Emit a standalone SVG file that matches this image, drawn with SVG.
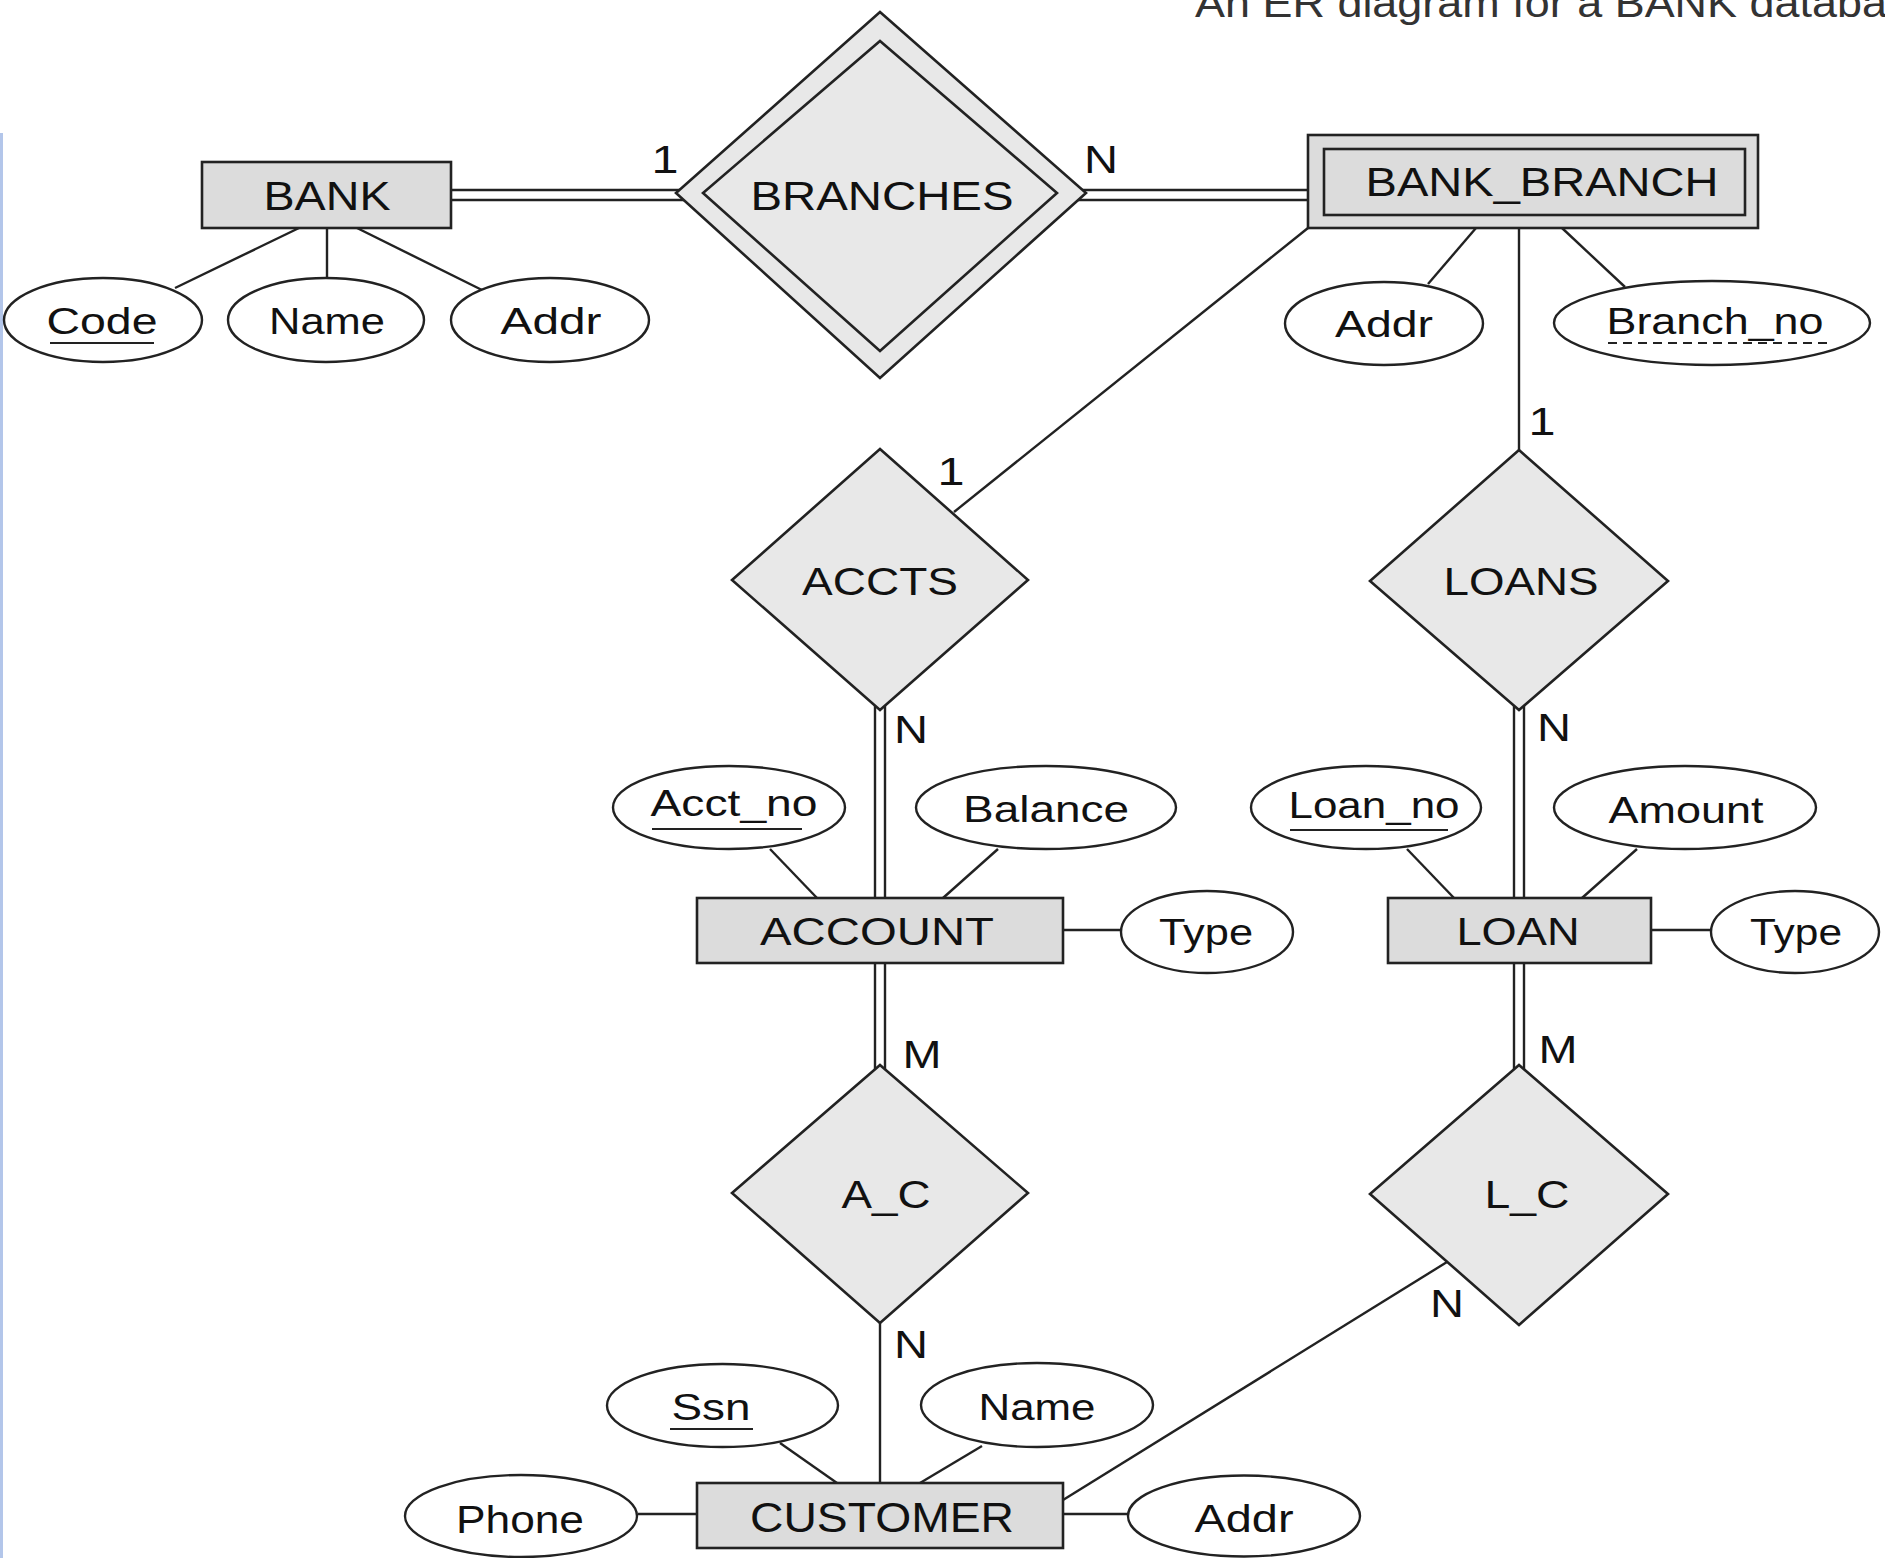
<svg xmlns="http://www.w3.org/2000/svg" width="1885" height="1558" viewBox="0 0 1885 1558">
<style>
  .bg { fill: #ffffff; }
  .ent { fill: #dcdcdc; stroke: #222; stroke-width: 2.6; }
  .rel { fill: #e8e8e8; stroke: #222; stroke-width: 2.6; }
  .attr { fill: #ffffff; stroke: #222; stroke-width: 2.4; }
  .conn line { stroke: #222; stroke-width: 2.4; fill: none; }
  text { font-family: "Liberation Sans", Arial, sans-serif; fill: #111; text-anchor: middle; }
  .big { font-size: 38px; }
  .at { font-size: 37px; }
  .card { font-size: 38px; }
  .ul { stroke: #222; stroke-width: 2.2; }
  .dul { stroke: #222; stroke-width: 2.2; stroke-dasharray: 9 6; }
</style>
<rect class="bg" x="0" y="0" width="1885" height="1558"/>
<rect x="0" y="133" width="3" height="1425" fill="#b3c6ea"/>
<text x="1195" y="17" style="font-size:41px;text-anchor:start;fill:#333" textLength="692" lengthAdjust="spacingAndGlyphs">An ER diagram for a BANK databa</text>

<g id="connectors" class="conn">
  <line x1="451" y1="190" x2="700" y2="190"/>
  <line x1="451" y1="200" x2="700" y2="200"/>
  <line x1="1070" y1="190" x2="1308" y2="190"/>
  <line x1="1070" y1="200" x2="1308" y2="200"/>
  <line x1="299" y1="228" x2="175" y2="288"/>
  <line x1="327" y1="228" x2="327" y2="278"/>
  <line x1="357" y1="228" x2="482" y2="290"/>
  <line x1="1476" y1="228" x2="1428" y2="284"/>
  <line x1="1562" y1="228" x2="1625" y2="287"/>
  <line x1="1308" y1="228" x2="954" y2="512"/>
  <line x1="1519" y1="228" x2="1519" y2="460"/>
  <line x1="875" y1="690" x2="875" y2="898"/>
  <line x1="885" y1="690" x2="885" y2="898"/>
  <line x1="1514" y1="690" x2="1514" y2="898"/>
  <line x1="1524" y1="690" x2="1524" y2="898"/>
  <line x1="770" y1="849" x2="817" y2="898"/>
  <line x1="998" y1="849" x2="943" y2="898"/>
  <line x1="1063" y1="930" x2="1121" y2="930"/>
  <line x1="1407" y1="849" x2="1454" y2="898"/>
  <line x1="1637" y1="849" x2="1582" y2="898"/>
  <line x1="1651" y1="930" x2="1712" y2="930"/>
  <line x1="875" y1="963" x2="875" y2="1085"/>
  <line x1="885" y1="963" x2="885" y2="1085"/>
  <line x1="1514" y1="963" x2="1514" y2="1085"/>
  <line x1="1524" y1="963" x2="1524" y2="1085"/>
  <line x1="880" y1="1310" x2="880" y2="1483"/>
  <line x1="1447" y1="1262" x2="1063" y2="1500"/>
  <line x1="780" y1="1443" x2="837" y2="1483"/>
  <line x1="982" y1="1446" x2="920" y2="1483"/>
  <line x1="638" y1="1514" x2="697" y2="1514"/>
  <line x1="1063" y1="1514" x2="1128" y2="1514"/>
</g>

<g id="BANK">
  <rect class="ent" x="202" y="162" width="249" height="66"/>
  <text x="327" y="210" style="font-size:40px" textLength="127" lengthAdjust="spacingAndGlyphs">BANK</text>
</g>
<g id="BANK_Code">
  <ellipse class="attr" cx="103" cy="320" rx="99" ry="42"/>
  <text class="at" x="102" y="334" textLength="111" lengthAdjust="spacingAndGlyphs">Code</text>
  <line class="ul" x1="50" y1="343" x2="154" y2="343"/>
</g>
<g id="BANK_Name">
  <ellipse class="attr" cx="326" cy="320" rx="98" ry="42"/>
  <text class="at" x="327" y="334" textLength="116" lengthAdjust="spacingAndGlyphs">Name</text>
</g>
<g id="BANK_Addr">
  <ellipse class="attr" cx="550" cy="320" rx="99" ry="42"/>
  <text class="at" x="551" y="334" textLength="101" lengthAdjust="spacingAndGlyphs">Addr</text>
</g>

<g id="BRANCHES">
  <polygon class="rel" points="880,12 1086,193 880,378 676,193"/>
  <polygon class="rel" points="880,41 1057,193 880,351 703,193"/>
  <text x="882" y="210" style="font-size:40px" textLength="263" lengthAdjust="spacingAndGlyphs">BRANCHES</text>
</g>

<g id="BANK_BRANCH">
  <rect class="ent" x="1308" y="135" width="450" height="93"/>
  <rect class="ent" x="1324" y="149" width="421" height="66"/>
  <text x="1542" y="196" style="font-size:41px" textLength="353" lengthAdjust="spacingAndGlyphs">BANK_BRANCH</text>
</g>
<g id="BB_Addr">
  <ellipse class="attr" cx="1384" cy="323.5" rx="99" ry="41.5"/>
  <text class="at" x="1384" y="337" textLength="98" lengthAdjust="spacingAndGlyphs">Addr</text>
</g>
<g id="BB_Branch_no">
  <ellipse class="attr" cx="1712" cy="323" rx="158" ry="42"/>
  <text class="at" x="1715" y="334" textLength="217" lengthAdjust="spacingAndGlyphs">Branch_no</text>
  <line class="dul" x1="1608" y1="343" x2="1828" y2="343"/>
</g>

<g id="ACCTS">
  <polygon class="rel" points="880,449 1028,580 880,710 732,580"/>
  <text class="big" x="880" y="595" textLength="156" lengthAdjust="spacingAndGlyphs">ACCTS</text>
</g>
<g id="LOANS">
  <polygon class="rel" points="1519,450 1668,581 1519,710 1370,581"/>
  <text class="big" x="1521" y="595" textLength="155" lengthAdjust="spacingAndGlyphs">LOANS</text>
</g>

<g id="ACCOUNT">
  <rect class="ent" x="697" y="898" width="366" height="65"/>
  <text class="big" x="877" y="945" textLength="234" lengthAdjust="spacingAndGlyphs">ACCOUNT</text>
</g>
<g id="ACC_Acct_no">
  <ellipse class="attr" cx="729" cy="807.5" rx="116" ry="41.5"/>
  <text class="at" x="734" y="816" textLength="167" lengthAdjust="spacingAndGlyphs">Acct_no</text>
  <line class="ul" x1="652" y1="829" x2="802" y2="829"/>
</g>
<g id="ACC_Balance">
  <ellipse class="attr" cx="1046" cy="807.5" rx="130" ry="41.5"/>
  <text class="at" x="1046" y="822" textLength="166" lengthAdjust="spacingAndGlyphs">Balance</text>
</g>
<g id="ACC_Type">
  <ellipse class="attr" cx="1207" cy="932" rx="86" ry="41"/>
  <text class="at" x="1206" y="945" textLength="94" lengthAdjust="spacingAndGlyphs">Type</text>
</g>

<g id="LOAN">
  <rect class="ent" x="1388" y="898" width="263" height="65"/>
  <text class="big" x="1518" y="945" textLength="123" lengthAdjust="spacingAndGlyphs">LOAN</text>
</g>
<g id="LOAN_Loan_no">
  <ellipse class="attr" cx="1366" cy="807.5" rx="115" ry="41.5"/>
  <text class="at" x="1374" y="818" textLength="171" lengthAdjust="spacingAndGlyphs">Loan_no</text>
  <line class="ul" x1="1290" y1="830" x2="1448" y2="830"/>
</g>
<g id="LOAN_Amount">
  <ellipse class="attr" cx="1685" cy="807.5" rx="131" ry="41.5"/>
  <text class="at" x="1686" y="823" textLength="155" lengthAdjust="spacingAndGlyphs">Amount</text>
</g>
<g id="LOAN_Type">
  <ellipse class="attr" cx="1795" cy="932" rx="84" ry="41"/>
  <text class="at" x="1796" y="945" textLength="92" lengthAdjust="spacingAndGlyphs">Type</text>
</g>

<g id="A_C">
  <polygon class="rel" points="880,1065 1028,1193 880,1323 732,1193"/>
  <text class="big" x="886" y="1208" textLength="89" lengthAdjust="spacingAndGlyphs">A_C</text>
</g>
<g id="L_C">
  <polygon class="rel" points="1519,1065 1668,1194 1519,1325 1370,1194"/>
  <text class="big" x="1527" y="1208" textLength="85" lengthAdjust="spacingAndGlyphs">L_C</text>
</g>

<g id="CUSTOMER">
  <rect class="ent" x="697" y="1483" width="366" height="65"/>
  <text x="882" y="1532" style="font-size:42px" textLength="264" lengthAdjust="spacingAndGlyphs">CUSTOMER</text>
</g>
<g id="CUST_Ssn">
  <ellipse class="attr" cx="722.5" cy="1405.5" rx="115.5" ry="41.5"/>
  <text class="at" x="711" y="1420" textLength="79" lengthAdjust="spacingAndGlyphs">Ssn</text>
  <line class="ul" x1="670" y1="1429" x2="753" y2="1429"/>
</g>
<g id="CUST_Name">
  <ellipse class="attr" cx="1037" cy="1405" rx="116" ry="42"/>
  <text class="at" x="1037" y="1420" textLength="117" lengthAdjust="spacingAndGlyphs">Name</text>
</g>
<g id="CUST_Phone">
  <ellipse class="attr" cx="521" cy="1516" rx="116" ry="41"/>
  <text x="520" y="1533" style="font-size:38px" textLength="128" lengthAdjust="spacingAndGlyphs">Phone</text>
</g>
<g id="CUST_Addr">
  <ellipse class="attr" cx="1244" cy="1516" rx="116" ry="40.5"/>
  <text x="1244" y="1532" style="font-size:38px" textLength="99" lengthAdjust="spacingAndGlyphs">Addr</text>
</g>

<g id="cardinalities">
  <text class="card" x="665" y="173" textLength="27" lengthAdjust="spacingAndGlyphs">1</text>
  <text class="card" x="1101" y="173" textLength="34" lengthAdjust="spacingAndGlyphs">N</text>
  <text class="card" x="951" y="485" textLength="27" lengthAdjust="spacingAndGlyphs">1</text>
  <text class="card" x="1542" y="435" textLength="27" lengthAdjust="spacingAndGlyphs">1</text>
  <text class="card" x="911" y="743" textLength="34" lengthAdjust="spacingAndGlyphs">N</text>
  <text class="card" x="1554" y="741" textLength="34" lengthAdjust="spacingAndGlyphs">N</text>
  <text class="card" x="922" y="1068" textLength="39" lengthAdjust="spacingAndGlyphs">M</text>
  <text class="card" x="1558" y="1063" textLength="39" lengthAdjust="spacingAndGlyphs">M</text>
  <text class="card" x="911" y="1358" textLength="34" lengthAdjust="spacingAndGlyphs">N</text>
  <text class="card" x="1447" y="1317" textLength="34" lengthAdjust="spacingAndGlyphs">N</text>
</g>
</svg>
